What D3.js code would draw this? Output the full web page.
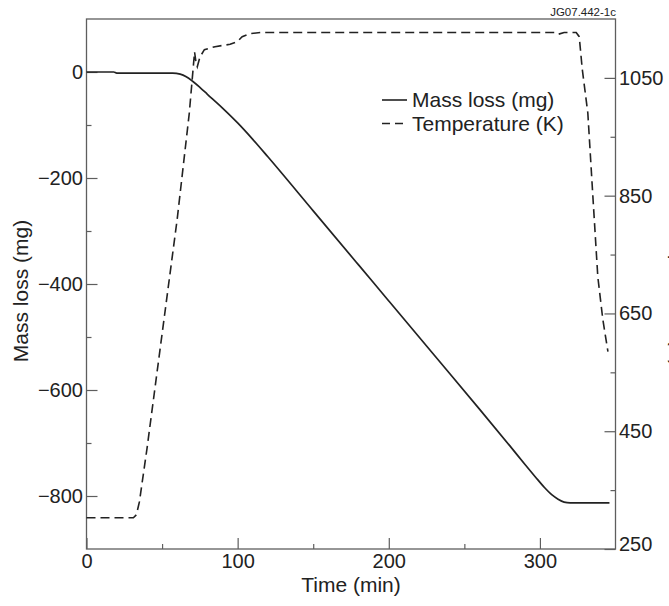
<!DOCTYPE html>
<html>

<head>
    <meta charset="utf-8">
    <title>Mass loss and temperature</title>
    <script src="https://d3js.org/d3.v7.min.js"></script>
    <style>
        body { margin: 0; background: #fff; }
        text { font-family: "Liberation Sans", Arial, Helvetica, sans-serif; fill: #222; }
    </style>
</head>

<body>
    <script type="text/javascript">
        // mass loss (mg) against time (min)
        let massTime = [0, 18, 20, 57, 62, 66, 70, 75, 80, 90, 100, 110, 120, 150, 180, 200, 230, 260, 280, 290, 297, 303, 308, 312, 316, 320, 346];
        let massLoss = [0, 0, -2, -2, -4, -9, -17, -29, -42, -68, -96, -127, -160, -262, -364, -432, -534, -636, -705, -740, -764, -784, -798, -806, -811.5, -813, -813];

        // temperature (K) against time (min)
        let tempTime = [0, 31, 33, 35, 40, 50, 60, 68, 71.5, 72.5, 73.3, 75, 78, 85, 95, 100, 103, 108, 115, 310, 312, 316, 324, 326, 328, 331.7, 335, 338.3, 341.6, 345];
        let temperature = [303, 303, 308, 330, 420, 615, 810, 990, 1094, 1075, 1069, 1085, 1098, 1103, 1107, 1112, 1120, 1125, 1127, 1127, 1124, 1127, 1127, 1120, 1065, 990, 850, 712, 640, 585];

        let timeTicks = [0, 100, 200, 300],
            timeMinor = [50, 150, 250],
            massTicks = [-800, -600, -400, -200, 0],
            massMinor = [-700, -500, -300, -100],
            tempTicks = [250, 450, 650, 850, 1050],
            tempMinor = [350, 550, 750, 950];

        let legendNames = ["Mass loss (mg)", "Temperature (K)"];

        let width = 669, height = 606;
        let plotLeft = 86.5, plotRight = 615.5, plotTop = 19, plotBottom = 549;
        let axisColor = "#5e5e5e";

        let svg = d3.select("body").append("svg")
            .attr("width", width)
            .attr("height", height);

        let x = d3.scaleLinear().domain([0, 350]).range([plotLeft, plotRight]);
        let yMass = d3.scaleLinear().domain([-900, 100]).range([plotBottom, plotTop]);
        let yTemp = d3.scaleLinear().domain([250, 1150]).range([plotBottom, plotTop]);

        // axes, ticks pointing inward
        function styleAxis(g) {
            g.select(".domain").remove();
            g.selectAll(".tick line").attr("stroke", axisColor).attr("stroke-width", 1.2);
            g.selectAll(".tick text").style("font-size", "20px").attr("fill", "#222");
        }

        svg.append("g")
            .attr("transform", "translate(0," + plotBottom + ")")
            .call(d3.axisBottom(x).tickValues(timeTicks).tickSizeInner(-11).tickSizeOuter(0).tickPadding(5))
            .call(styleAxis);
        svg.append("g")
            .attr("transform", "translate(0," + plotBottom + ")")
            .call(d3.axisBottom(x).tickValues(timeMinor).tickSizeInner(-5).tickSizeOuter(0).tickFormat(""))
            .call(styleAxis);

        svg.append("g")
            .attr("transform", "translate(" + plotLeft + ",0)")
            .call(d3.axisLeft(yMass).tickValues(massTicks).tickSizeInner(-11).tickSizeOuter(0).tickPadding(3.5))
            .call(styleAxis);
        svg.append("g")
            .attr("transform", "translate(" + plotLeft + ",0)")
            .call(d3.axisLeft(yMass).tickValues(massMinor).tickSizeInner(-5).tickSizeOuter(0).tickFormat(""))
            .call(styleAxis);

        let tempAxis = svg.append("g")
            .attr("transform", "translate(" + plotRight + ",0)")
            .call(d3.axisRight(yTemp).tickValues(tempTicks).tickFormat(d3.format("d"))
                .tickSizeInner(-11).tickSizeOuter(0).tickPadding(3.5))
            .call(styleAxis);
        // the bottom label sits a little above its tick
        tempAxis.selectAll(".tick text").filter(d => d === 250).attr("y", -5);
        svg.append("g")
            .attr("transform", "translate(" + plotRight + ",0)")
            .call(d3.axisRight(yTemp).tickValues(tempMinor).tickSizeInner(-5).tickSizeOuter(0).tickFormat(""))
            .call(styleAxis);

        // frame
        svg.append("rect")
            .attr("x", plotLeft).attr("y", plotTop)
            .attr("width", plotRight - plotLeft).attr("height", plotBottom - plotTop)
            .attr("fill", "none")
            .attr("stroke", axisColor)
            .attr("stroke-width", 1.3);

        // curves
        let massLine = d3.line()
            .x((d, i) => x(massTime[i]))
            .y(d => yMass(d))
            .curve(d3.curveMonotoneX);
        svg.append("path")
            .attr("d", massLine(massLoss))
            .attr("fill", "none")
            .attr("stroke", "#222")
            .attr("stroke-width", 1.7);

        let tempLine = d3.line()
            .x((d, i) => x(tempTime[i]))
            .y(d => yTemp(d));
        svg.append("path")
            .attr("d", tempLine(temperature))
            .attr("fill", "none")
            .attr("stroke", "#222")
            .attr("stroke-width", 1.6)
            .attr("stroke-dasharray", "9,5");

        // axis titles
        svg.append("text")
            .attr("x", (plotLeft + plotRight) / 2).attr("y", 592)
            .attr("text-anchor", "middle")
            .style("font-size", "21px")
            .text("Time (min)");
        svg.append("text")
            .attr("transform", "translate(28,291) rotate(-90)")
            .attr("text-anchor", "middle")
            .style("font-size", "21px")
            .text("Mass loss (mg)");
        svg.append("text")
            .attr("transform", "translate(672,291) rotate(90)")
            .attr("text-anchor", "middle")
            .style("font-size", "21px")
            .text("Temperature (K)");

        svg.append("text")
            .attr("x", 616).attr("y", 15.5)
            .attr("text-anchor", "end")
            .style("font-size", "11.5px")
            .text("JG07.442-1c");

        // legend
        let legend = svg.append("g").attr("transform", "translate(382,100)");
        legend.selectAll("line")
            .data(legendNames)
            .join("line")
            .attr("x1", 0)
            .attr("x2", (d, i) => i === 0 ? 25 : 21)
            .attr("y1", (d, i) => i * 23.5)
            .attr("y2", (d, i) => i * 23.5)
            .attr("stroke", "#222")
            .attr("stroke-width", 1.6)
            .attr("stroke-dasharray", (d, i) => i === 0 ? null : "8,5");
        legend.selectAll("text")
            .data(legendNames)
            .join("text")
            .attr("x", 30)
            .attr("y", (d, i) => i * 23.5)
            .attr("dy", "0.35em")
            .style("font-size", "21px")
            .text(d => d);
    </script>
</body>

</html>
